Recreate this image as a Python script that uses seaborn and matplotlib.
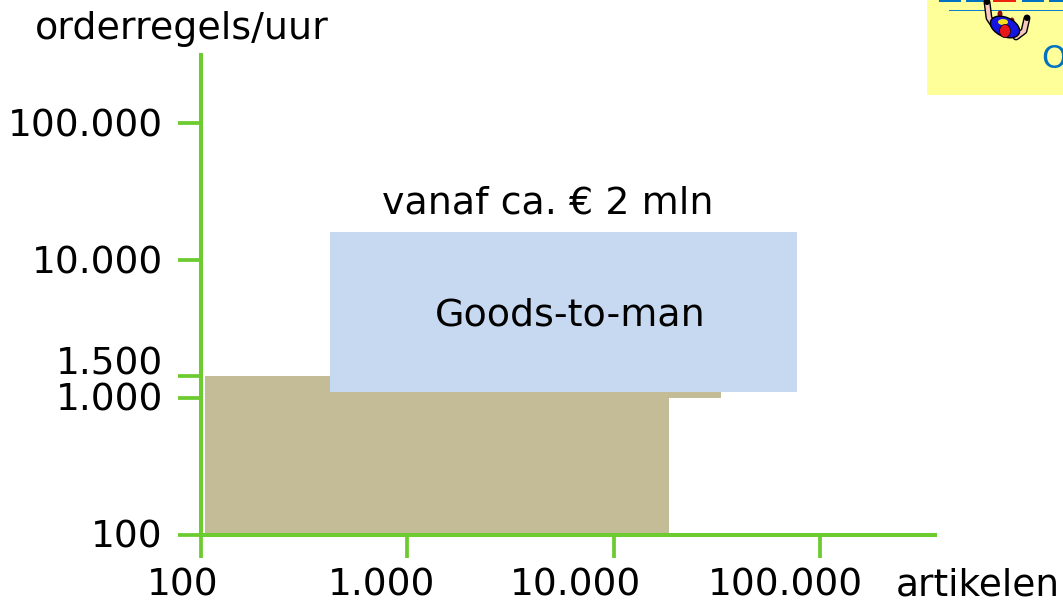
import matplotlib
matplotlib.use("Agg")
import matplotlib.pyplot as plt
from matplotlib.patches import Rectangle, Ellipse
from matplotlib.transforms import ScaledTranslation
import pandas as pd
import seaborn as sns

# values
x_ticks = [100, 1000, 10000, 100000]
x_tick_labels = ["100", "1.000", "10.000", "100.000"]
y_ticks = [100, 1000, 1440, 10000, 100000]
y_tick_labels = ["100", "1.000", "1.500", "10.000", "100.000"]

tan_x = [104.5, 18550, 18550, 33100, 33100, 104.5, 104.5]
tan_y = [100, 100, 1000, 1000, 1440, 1440, 100]
blue_x = [422, 77400, 77400, 422, 422]
blue_y = [1100, 1100, 16100, 16100, 1100]

green = "#6ccb2e"
tan = "#c4bc96"
blue = "#c6d9f1"

sns.set_style("white")
plt.rcParams["font.family"] = ["DejaVu Sans"]
plt.rcParams["text.color"] = "black"

W, H = 1063, 603
fig = plt.figure(figsize=(W / 100, H / 100), dpi=100)
ax = fig.add_axes([201 / W, (H - 535) / H, (935 - 201) / W, (535 - 55) / H])

tan_df = pd.DataFrame({"x": tan_x, "y": tan_y})
blue_df = pd.DataFrame({"x": blue_x, "y": blue_y})

ax.set_xscale("log")
ax.set_yscale("log")
ax.fill(tan_x, tan_y, color=tan, lw=0, zorder=1)
ax.fill(blue_x, blue_y, color=blue, lw=0, zorder=2)
sns.lineplot(data=tan_df, x="x", y="y", sort=False, estimator=None, color=tan, lw=0, ax=ax)
sns.lineplot(data=blue_df, x="x", y="y", sort=False, estimator=None, color=blue, lw=0, ax=ax)

ax.set_xlim(100, 10 ** (2 + (935 - 201) / 206.33))
ax.set_ylim(100, 10 ** (2 + (535 - 55) / 137.3))
ax.set_xlabel("")
ax.set_ylabel("")
ax.patch.set_alpha(0)

sns.despine(ax=ax)
for side in ["left", "bottom"]:
    ax.spines[side].set_color(green)
    ax.spines[side].set_linewidth(2.9)
    ax.spines[side].set_zorder(5)

ax.set_xticks(x_ticks, x_tick_labels)
ax.set_yticks(y_ticks, y_tick_labels)
ax.minorticks_off()
ax.tick_params(axis="x", length=16.5, width=2.7, color=green, labelsize=27, labelcolor="black", pad=7, bottom=True)
ax.tick_params(axis="y", length=16.5, width=2.7, color=green, labelsize=27, labelcolor="black", pad=11, left=True)

# the labels sit off-centre from their ticks in the original
x_shift = [-18, -26, -38, -35]
for lab, dx in zip(ax.get_xticklabels(), x_shift):
    lab.set_transform(lab.get_transform() + ScaledTranslation(dx / 100, 0, fig.dpi_scale_trans))
y_shift = {"1.500": 15}
for lab, txt in zip(ax.get_yticklabels(), y_tick_labels):
    dy = y_shift.get(txt, 1)
    lab.set_transform(lab.get_transform() + ScaledTranslation(0, dy / 100, fig.dpi_scale_trans))

# overlay in pixels for free text and the logo corner
over = fig.add_axes([0, 0, 1, 1], zorder=10)
over.set_xlim(0, W)
over.set_ylim(H, 0)
over.axis("off")
over.text(35, 29, "orderregels/uur", fontsize=27.4, va="center", ha="left")
over.text(1060, 585, "artikelen", fontsize=27, va="center", ha="right")
over.text(548, 204, "vanaf ca. € 2 mln", fontsize=27.4, va="center", ha="center")
over.text(570, 316, "Goods-to-man", fontsize=27.4, va="center", ha="center")

# logo
over.add_patch(Rectangle((927, 0), 136, 95, color="#ffff99", lw=0, zorder=1))
for x0, w, c in [(939, 22, "#0070c0"), (966, 22, "#0070c0"), (993, 23, "#ee2211"), (1022, 22, "#0070c0"), (1049, 14, "#0070c0")]:
    over.add_patch(Rectangle((x0, 0), w, 2, color=c, lw=0, zorder=2))
over.add_patch(Rectangle((949, 9.5), 114, 1.5, color="#0a7fc8", lw=0, zorder=2))
# little acrobat hanging from the bar
over.plot([987, 989, 995], [2, 18, 27], color="black", lw=5, solid_capstyle="round", zorder=3)
over.plot([987, 989, 995], [2, 18, 27], color="#f8c8c0", lw=3, solid_capstyle="round", zorder=3)
over.plot([1027, 1024, 1016], [18, 31, 37], color="black", lw=5, solid_capstyle="round", zorder=3)
over.plot([1027, 1024, 1016], [18, 31, 37], color="#f8c8c0", lw=3, solid_capstyle="round", zorder=3)
over.add_patch(Ellipse((987, 2), 6, 6, color="black", lw=0, zorder=4))
over.add_patch(Ellipse((1027, 18), 6, 6, color="black", lw=0, zorder=4))
over.add_patch(Ellipse((1000, 14), 5, 7, color="#8b1010", lw=0, zorder=4))
over.add_patch(Ellipse((1012, 21), 5, 7, color="#8b1010", lw=0, zorder=4))
over.add_patch(Ellipse((1005, 27), 31, 19, angle=25, facecolor="#1515e0", edgecolor="black", lw=1, zorder=4))
over.add_patch(Ellipse((1003, 22), 10, 6, color="#f5e020", lw=0, zorder=5))
over.add_patch(Ellipse((1005, 31), 11, 13, facecolor="#e81818", edgecolor="black", lw=0.5, zorder=6))
over.text(1041, 60, "O", fontsize=23, color="#0070c0", va="center", ha="left", clip_on=True, zorder=4)

fig.savefig("out.png", dpi=100)
